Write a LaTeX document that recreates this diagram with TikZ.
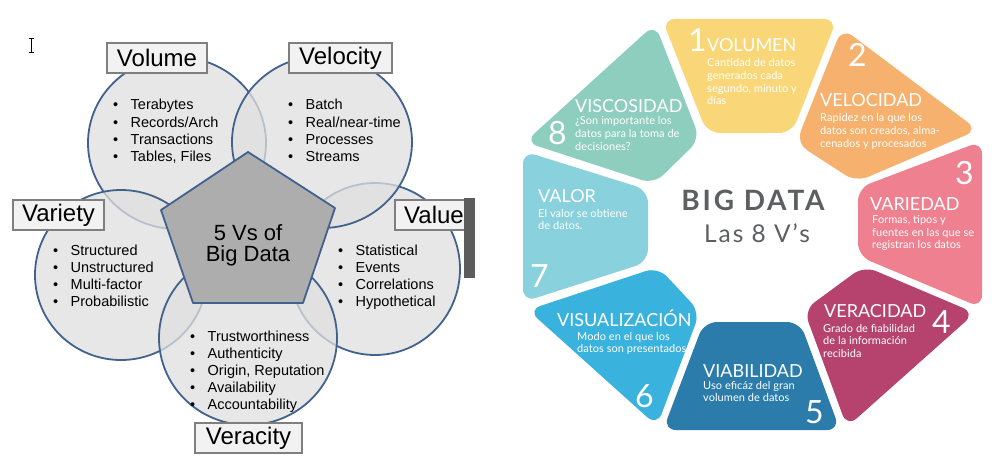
\documentclass[tikz,border=0pt]{standalone}
\usepackage{fontspec}
\newfontfamily\arialf{Liberation Sans}
\newfontfamily\latof{Lato}
\newfontfamily\latowide[LetterSpace=0.5]{Lato}
\newfontfamily\latotitle[LetterSpace=10]{Lato}
\newfontfamily\latosub[LetterSpace=8]{Lato}
\definecolor{ringline}{HTML}{41628C}
\definecolor{circfill}{HTML}{E0E0E0}
\definecolor{pentfill}{HTML}{ADADAD}
\definecolor{labelfill}{HTML}{F2F2F2}
\definecolor{labelline}{HTML}{7F7F7F}
\definecolor{barfill}{HTML}{5C5C5C}
\definecolor{vyellow}{HTML}{F9D778}
\definecolor{vorange}{HTML}{F5B16D}
\definecolor{vpink}{HTML}{EF808F}
\definecolor{vmagenta}{HTML}{B5436E}
\definecolor{vdarkblue}{HTML}{2B7CAA}
\definecolor{vblue}{HTML}{3AB2DE}
\definecolor{vlightblue}{HTML}{89D1DD}
\definecolor{vteal}{HTML}{8ECEBE}
\definecolor{bdgray}{HTML}{5E5F61}

% bullet list: name, x of bullet, first baseline, items
\newcommand\vbullets[4]{%
  \foreach \itm [count=\k] in {#4}{%
    \node[bulletline] (#1-\k) at (#2, {#3+17.1*(\k-1)}) {\makebox[17.5pt][l]{\textbullet}\itm};
  }}
% white description lines: name, x, first baseline, lines
\newcommand\vdescr[4]{%
  \foreach \itm [count=\k] in {#4}{%
    \node[vdesc] (#1-\k) at (#2, {#3+12.6*(\k-1)}) {\itm};
  }}

\begin{document}
\begin{tikzpicture}[x=1pt,y=-1pt,
  vcircle/.style={fill=circfill, fill opacity=0.75, draw=ringline, line width=1.8pt},
  vlabel/.style={draw=labelline, line width=1.2pt, fill=labelfill, inner sep=0pt,
    minimum height=30pt, font=\arialf\fontsize{24}{28}\selectfont},
  bulletline/.style={anchor=base west, inner sep=0pt, font=\arialf\fontsize{14.5}{17}\selectfont},
  seg/.style={fill=#1, rounded corners=13pt},
  vnum/.style={anchor=base west, inner sep=0pt, text=white, font=\latof\fontsize{32}{36}\selectfont},
  vtitle/.style={anchor=base west, inner sep=0pt, text=white, font=\latof\fontsize{18}{20}\selectfont},
  vdesc/.style={anchor=base west, inner sep=0pt, text=white, font=\latowide\fontsize{11}{13}\selectfont},
]
\useasboundingbox (0,0) rectangle (996,468);
\fill[white] (0,0) rectangle (996,468);

% ---------- five Vs: overlapping circles ----------
\draw[vcircle] (177,143) ellipse [x radius=89, y radius=86];
\draw[vcircle] (375,269) ellipse [x radius=85, y radius=86];
\draw[vcircle] (322,142) ellipse [x radius=90, y radius=86];
\draw[vcircle] (121,275) ellipse [x radius=86, y radius=85];
\draw[vcircle] (248,338) ellipse [x radius=89, y radius=87];

% centre pentagon
\draw[fill=pentfill, draw=ringline, line width=1.8pt, line join=round]
  (248,152) -- (335,208) -- (303,303) -- (193,303) -- (161,210) -- cycle;
\node[font=\arialf\fontsize{22}{26}\selectfont, anchor=base, inner sep=0pt] (five) at (248,240) {5 Vs of};
\node[font=\arialf\fontsize{22}{26}\selectfont, anchor=base, inner sep=0pt] (bigdata) at (248,261) {Big Data};

% bullet lists
\vbullets{volume}{113}{110}{Terabytes,Records/Arch,Transactions,{Tables, Files}}
\vbullets{velocity}{288}{110}{Batch,Real/near-time,Processes,Streams}
\vbullets{variety}{53}{255}{Structured,Unstructured,Multi-factor,Probabilistic}
\vbullets{value}{338}{255}{Statistical,Events,Correlations,Hypothetical}
\vbullets{veracity}{190}{341.5}{Trustworthiness,Authenticity,{Origin, Reputation},Availability,Accountability}

% labels
\node[vlabel, minimum width=100pt] (lvolume) at (157,58) {Volume};
\node[vlabel, minimum width=103pt] (lvelocity) at (340.5,58) {Velocity};
\node[vlabel, minimum width=91pt] (lvariety) at (58.5,215) {Variety};
\node[vlabel, minimum width=78pt] (lvalue) at (434,215) {Value};
\node[vlabel, minimum width=107pt] (lveracity) at (248.5,438) {Veracity};

% side bar and text cursor
\fill[barfill] (464,198) rectangle (475,278);
\draw[line width=0.8pt] (31.5,38.5) -- (31.5,52.5);
\draw[line width=0.7pt] (29.3,38.2) -- (33.7,38.2) (29.3,52.8) -- (33.7,52.8);

% ---------- eight Vs: ring of segments ----------
\fill[seg=vyellow]    (662,19) -- (837,19) -- (792,133) -- (707,133) -- cycle;
\fill[seg=vorange]    (842,28) -- (978,130) -- (856,182) -- (796,143) -- cycle;
\fill[seg=vpink]      (858,188) -- (982,141) -- (982,308) -- (858,256) -- cycle;
\fill[seg=vmagenta]   (864,266) -- (975,313) -- (847,427) -- (804,310) -- cycle;
\fill[seg=vdarkblue]  (704,322) -- (800,322) -- (840,430) -- (663,430) -- cycle;
\fill[seg=vblue]      (658,267) -- (700,312) -- (657,426) -- (528,310) -- cycle;
\fill[seg=vlightblue] (523,151) -- (648,190) -- (648,262) -- (523,302) -- cycle;
\fill[seg=vteal]      (655,24) -- (700,139) -- (654,184) -- (525,142) -- cycle;

% centre title
\node[anchor=base, inner sep=0pt, text=bdgray, font=\latotitle\bfseries\fontsize{28}{30}\selectfont] (bigtitle) at (753,210) {BIG DATA};
\node[anchor=base, inner sep=0pt, text=bdgray, font=\latosub\fontsize{24.5}{28}\selectfont] (subtitle) at (757,242) {Las 8 V’s};

% 1 volumen
\node[vnum] (n1) at (688,52) {1};
\node[vtitle] (t1) at (707,52) {VOLUMEN};
\vdescr{d1}{707}{67}{Cantidad de datos,generados cada,{segundo, minuto y},días}
% 2 velocidad
\node[vnum] (n2) at (848,67) {2};
\node[vtitle] (t2) at (820,107) {VELOCIDAD};
\vdescr{d2}{820}{122}{Rapidez en la que los,{datos son creados, alma-},cenados y procesados}
% 3 variedad
\node[vnum] (n3) at (955,185) {3};
\node[vtitle] (t3) at (870,210) {VARIEDAD};
\vdescr{d3}{872}{223.5}{{Formas, tipos y},fuentes en las que se,registran los datos}
% 4 veracidad
\node[vnum] (n4) at (932,333) {4};
\node[vtitle] (t4) at (824,317) {VERACIDAD};
\vdescr{d4}{823}{332}{Grado de fiabilidad,de la información,recibida}
% 5 viabilidad
\node[vnum] (n5) at (805,423) {5};
\node[vtitle] (t5) at (703,377) {VIABILIDAD};
\vdescr{d5}{703}{389}{Uso eficáz del gran,volumen de datos}
% 6 visualizacion
\node[vnum] (n6) at (635,407) {6};
\node[vtitle] (t6) at (557,326) {VISUALIZACIÓN};
\vdescr{d6}{577}{340}{Modo en el que los,datos son presentados}
% 7 valor
\node[vnum] (n7) at (530,287) {7};
\node[vtitle] (t7) at (538,202) {VALOR};
\vdescr{d7}{538}{217}{El valor se obtiene,de datos.}
% 8 viscosidad
\node[vnum] (n8) at (548,145) {8};
\node[vtitle] (t8) at (575,113) {VISCOSIDAD};
\vdescr{d8}{575}{125}{¿Son importante los,datos para la toma de,decisiones?}
\end{tikzpicture}
\end{document}
